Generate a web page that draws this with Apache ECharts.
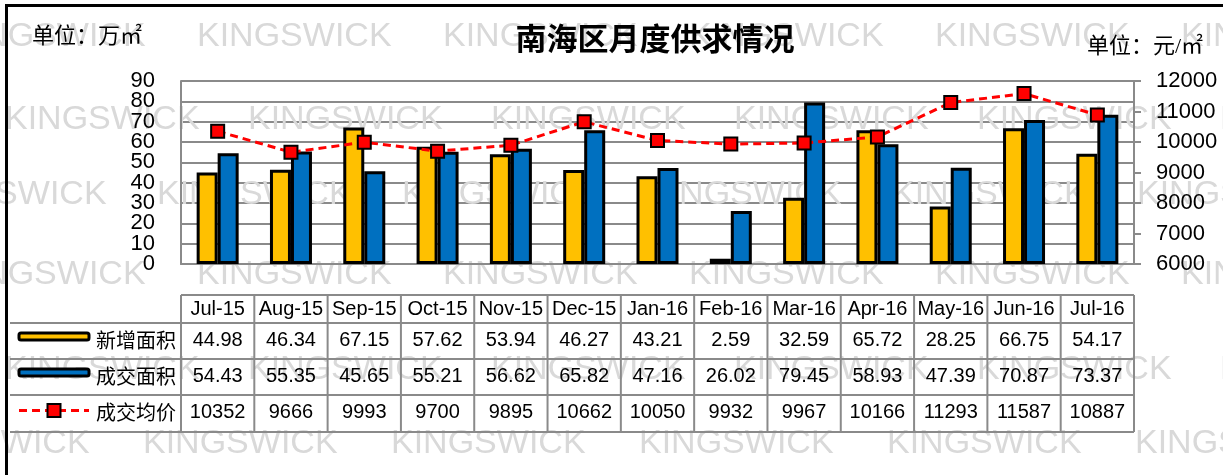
<!DOCTYPE html>
<html><head><meta charset="utf-8">
<script src="https://cdn.jsdelivr.net/npm/echarts@6/dist/echarts.min.js"></script>
<style>html,body{margin:0;padding:0;background:#fff}#c{width:1223px;height:475px}</style>
</head><body><div id="c"></div>
<script>
// ---- data ----
const categories = ['Jul-15','Aug-15','Sep-15','Oct-15','Nov-15','Dec-15','Jan-16','Feb-16','Mar-16','Apr-16','May-16','Jun-16','Jul-16'];
const newArea  = [44.98,46.34,67.15,57.62,53.94,46.27,43.21,2.59,32.59,65.72,28.25,66.75,54.17];
const dealArea = [54.43,55.35,45.65,55.21,56.62,65.82,47.16,26.02,79.45,58.93,47.39,70.87,73.37];
const avgPrice = [10352,9666,9993,9700,9895,10662,10050,9932,9967,10166,11293,11587,10887];
const seriesNames = ['新增面积','成交面积','成交均价'];
const priceLabels = ['10352','9666','9993','9700','9895','10662','10050','9932','9967','10166','11293','11587','10887'];
const leftTicks = [0, 10, 20, 30, 40, 50, 60, 70, 80, 90];
const rightTicks = [6000, 7000, 8000, 9000, 10000, 11000, 12000];
const titleText = '南海区月度供求情况';
const leftUnit = '单位：万㎡';
const rightUnit = '单位：元/㎡';
const watermark = 'KINGSWICK';

// ---- style ----
const YELLOW = '#FFC000', BLUE = '#0070C0', RED = '#FF0000';
const GRID_C = '#8a8a8a';
const NUM_FONT = '"Liberation Sans", Arial, sans-serif';
const CJK_FONT = '"Noto Sans CJK SC", sans-serif';

const chart = echarts.init(document.getElementById('c'));
const option = {
  animation: false,
  backgroundColor: '#fff',
  grid: { left: 181, right: 89, top: 81, bottom: 211, containLabel: false },
  xAxis: {
    type: 'category', data: categories,
    axisLabel: { show: false }, axisTick: { show: false },
    axisLine: { show: true, lineStyle: { color: GRID_C, width: 2 } },
    splitLine: { show: false }
  },
  yAxis: [
    {
      type: 'value', min: leftTicks[0], max: leftTicks[leftTicks.length - 1], interval: leftTicks[1] - leftTicks[0],
      axisLine: { show: true, lineStyle: { color: GRID_C, width: 2 } },
      axisTick: { show: false },
      axisLabel: { show: false },
      splitLine: { show: true, lineStyle: { color: GRID_C, width: 2 } }
    },
    {
      type: 'value', min: rightTicks[0], max: rightTicks[rightTicks.length - 1], interval: rightTicks[1] - rightTicks[0],
      position: 'right',
      axisLine: { show: true, lineStyle: { color: GRID_C, width: 2 } },
      axisTick: { show: true, length: 7, lineStyle: { color: GRID_C, width: 2 } },
      axisLabel: { color: '#000', fontSize: 22, fontFamily: NUM_FONT, margin: 22,
        showMinLabel: true, showMaxLabel: true, hideOverlap: false, formatter: v => String(v) },
      splitLine: { show: false }
    }
  ],
  series: [
    { name: seriesNames[0], type: 'bar', data: newArea, barWidth: 21, barGap: '0%', z: 2,
      itemStyle: { color: YELLOW, borderColor: '#000', borderWidth: 3 } },
    { name: seriesNames[1], type: 'bar', data: dealArea, barWidth: 21, barGap: '0%', z: 2,
      itemStyle: { color: BLUE, borderColor: '#000', borderWidth: 3 } },
    { name: seriesNames[2], type: 'line', yAxisIndex: 1, data: avgPrice, z: 5,
      symbol: 'rect', symbolSize: 13,
      lineStyle: { color: RED, width: 3, type: [8, 5] },
      itemStyle: { color: RED, borderColor: '#000', borderWidth: 2 } }
  ]
};
chart.setOption(option);

// ---- build table / decorations from axis positions ----
const n = categories.length;
const centers = categories.map(c => chart.convertToPixel({ xAxisIndex: 0 }, c));
const catW = centers[1] - centers[0];
const tLeft = centers[0] - catW / 2, tRight = centers[n - 1] + catW / 2;
const rowY = [295, 323, 359, 395, 432];
const labelLeft = 10;
const els = [];

function txt(x, y, text, font, size, align, color, z, weight) {
  return { type: 'text', x: x, y: y, z: z || 10, silent: true,
    style: { text: text, fontSize: size, fontFamily: font, fontWeight: weight || 'normal',
      fill: color || '#000', align: align || 'center', verticalAlign: 'middle',
      textAlign: align || 'center', textVerticalAlign: 'middle' } };
}
function line(x1, y1, x2, y2, color, w, z, dash) {
  return { type: 'line', z: z || 10, silent: true, shape: { x1, y1, x2, y2 },
    style: { stroke: color, lineWidth: w, lineDash: dash || null } };
}

// watermarks
const wmRows = [
  { y: 37, x0: -49, step: 246 }, { y: 120, x0: 5, step: 243 }, { y: 195, x0: -88, step: 245 },
  { y: 275, x0: -49, step: 246 }, { y: 370, x0: 5, step: 243 }, { y: 444, x0: -105, step: 248 }
];
wmRows.forEach(r => {
  for (let x = r.x0; x < 1240; x += r.step) {
    const t = txt(x, r.y, watermark, NUM_FONT, 34, 'left', '#d9d9d9', 0);
    t.z = 0;
    els.push(t);
  }
});

// left axis tick labels (placed through the axis scale)
leftTicks.forEach(v => {
  const py = chart.convertToPixel({ yAxisIndex: 0 }, v);
  els.push(txt(155, py, String(v), NUM_FONT, 22, 'right', '#000', 12));
});

// frame
els.push({ type: 'rect', z: 20, silent: true, shape: { x: 6.5, y: 5.5, width: 1400, height: 700 },
  style: { fill: 'none', stroke: '#000', lineWidth: 3 } });

// title & units
els.push(txt(655, 38, titleText, CJK_FONT, 31, 'center', '#000', 12, 'bold'));
els.push(txt(32, 37, leftUnit, '"Liberation Serif", "Noto Sans CJK SC", serif', 22, 'left', '#000', 12));
els.push(txt(1087, 47, rightUnit, '"Liberation Serif", "Noto Sans CJK SC", serif', 22, 'left', '#000', 12));

// table lines
els.push(line(tLeft, rowY[0], tRight, rowY[0], GRID_C, 2));
for (let r = 1; r < rowY.length; r++) els.push(line(labelLeft, rowY[r], tRight, rowY[r], GRID_C, 2));
for (let i = 0; i <= n; i++) {
  const x = tLeft + i * catW;
  els.push(line(x, rowY[0], x, rowY[4], GRID_C, 2));
}
// table texts
const rowsData = [newArea.map(v => v.toFixed(2)), dealArea.map(v => v.toFixed(2)), priceLabels];
categories.forEach((c, i) => {
  els.push(txt(centers[i], 309, c, NUM_FONT, 20, 'center', '#000'));
  rowsData.forEach((arr, r) => {
    els.push(txt(centers[i], (rowY[r + 1] + rowY[r + 2]) / 2 - 1, arr[i], NUM_FONT, 20, 'center', '#000'));
  });
});
// legend column
const legendIconX = 19, legendIconW = 70;
[0, 1, 2].forEach(r => {
  const cy = (rowY[r + 1] + rowY[r + 2]) / 2;
  els.push(txt(96, cy - 1, seriesNames[r], CJK_FONT, 20, 'left', '#000'));
  if (r < 2) {
    els.push({ type: 'rect', z: 10, silent: true,
      shape: { x: legendIconX, y: cy - 8, width: legendIconW, height: 7, r: 2 },
      style: { fill: r === 0 ? YELLOW : BLUE, stroke: '#000', lineWidth: 3 } });
  } else {
    els.push(line(legendIconX, cy - 3, legendIconX + legendIconW, cy - 3, RED, 3, 10, [8, 5]));
    els.push({ type: 'rect', z: 11, silent: true,
      shape: { x: legendIconX + legendIconW / 2 - 6.5, y: cy - 9.5, width: 13, height: 13 },
      style: { fill: RED, stroke: '#000', lineWidth: 2 } });
  }
});

chart.setOption({ graphic: { elements: els } });
</script>
</body></html>
